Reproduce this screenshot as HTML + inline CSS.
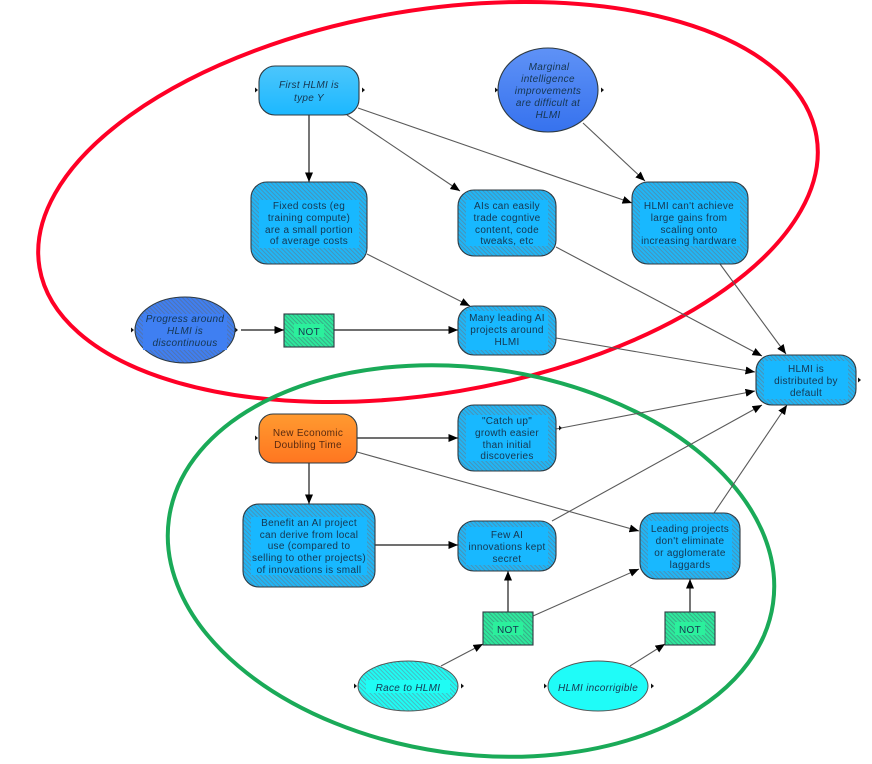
<!DOCTYPE html>
<html><head><meta charset="utf-8"><style>
html,body{margin:0;padding:0;background:#fff;width:872px;height:764px;overflow:hidden}
svg{display:block}
text{font-family:"Liberation Sans",sans-serif;font-size:10px;letter-spacing:.3px;text-anchor:middle;fill:#163650}
.i{font-style:italic}
.n{stroke:#2e3a42;stroke-width:1.1}
.l{stroke:#5a5a5a;stroke-width:1.1;fill:none;marker-end:url(#a)}
.k{stroke:#1a1a1a;stroke-width:1.2;fill:none;marker-end:url(#a)}
.b{fill:#18b8ff;stroke:none}
.g{fill:#2bf09c;stroke:none}
</style></head><body>
<svg width="872" height="764" viewBox="0 0 872 764" xmlns="http://www.w3.org/2000/svg">
<defs>
<marker id="a" markerUnits="userSpaceOnUse" markerWidth="11" markerHeight="9" refX="9.500" refY="4" orient="auto"><path d="M0,0L9.500,4L0,8z" fill="#000"/></marker>
<pattern id="hb" width="3" height="3" patternUnits="userSpaceOnUse" patternTransform="rotate(45)"><rect width="3" height="3" fill="#20b6f6"/><rect width="3" height=".9" fill="#4a8fb4"/></pattern>
<pattern id="hg" width="3" height="3" patternUnits="userSpaceOnUse" patternTransform="rotate(45)"><rect width="3" height="3" fill="#2ee89c"/><rect width="3" height=".9" fill="#38a884"/></pattern>
<pattern id="hd" width="3" height="3" patternUnits="userSpaceOnUse" patternTransform="rotate(45)"><rect width="3" height="3" fill="#3f7ff2"/><rect width="3" height=".9" fill="#5272ac"/></pattern>
<pattern id="hc" width="3" height="3" patternUnits="userSpaceOnUse" patternTransform="rotate(45)"><rect width="3" height="3" fill="#1ffcf4"/><rect width="3" height=".9" fill="#4ab4bc"/></pattern>
<linearGradient id="gb" x1="0" y1="0" x2="0" y2="1"><stop offset="0" stop-color="#4cc6fb"/><stop offset="1" stop-color="#1cb8ff"/></linearGradient>
<linearGradient id="gd" x1="0" y1="0" x2="0" y2="1"><stop offset="0" stop-color="#5f92f6"/><stop offset="1" stop-color="#3672ee"/></linearGradient>
<linearGradient id="go" x1="0" y1="0" x2="0" y2="1"><stop offset="0" stop-color="#ff9a30"/><stop offset="1" stop-color="#ff7620"/></linearGradient>
</defs>

<ellipse cx="428" cy="202" rx="394" ry="191.6" transform="rotate(-9.6 428 202)" fill="none" stroke="#ff0026" stroke-width="4"/>
<ellipse cx="471" cy="561" rx="305" ry="193" transform="rotate(8 471 561)" fill="none" stroke="#1aaa58" stroke-width="4"/>

<line class="k" x1="309" y1="115" x2="309" y2="182"/>
<line class="l" x1="347" y1="115" x2="460" y2="191"/>
<line class="l" x1="358" y1="108" x2="632" y2="203"/>
<line class="l" x1="583" y1="123" x2="645" y2="181"/>
<line class="l" x1="367" y1="254" x2="470" y2="306"/>
<line class="l" x1="556" y1="247" x2="762" y2="356"/>
<line class="l" x1="720" y1="264" x2="786" y2="354"/>
<line class="l" x1="556" y1="338" x2="755" y2="372"/>
<line class="l" x1="556" y1="429" x2="755" y2="391"/>
<line class="l" x1="552" y1="521" x2="762" y2="405"/>
<line class="l" x1="714" y1="513" x2="787" y2="405"/>
<line class="k" x1="241" y1="330" x2="284" y2="330"/>
<line class="k" x1="334" y1="330" x2="458" y2="330"/>
<line class="k" x1="357" y1="438" x2="458" y2="438"/>
<line class="l" x1="357" y1="452" x2="639" y2="531"/>
<line class="k" x1="309" y1="463" x2="309" y2="504"/>
<line class="k" x1="375" y1="545" x2="458" y2="545"/>
<line class="k" x1="508" y1="612" x2="508" y2="571"/>
<line class="l" x1="533" y1="616" x2="639" y2="569"/>
<line class="k" x1="690" y1="612" x2="690" y2="579"/>
<line class="l" x1="441" y1="666" x2="483" y2="644"/>
<line class="l" x1="630" y1="666" x2="665" y2="644"/>

<g fill="#111">
<path d="M255,87.500l3,2.500l-3,2.500z M362,87.500l3,2.500l-3,2.500z M495,87.500l3,2.500l-3,2.500z M601,87.500l3,2.500l-3,2.500z"/>
<path d="M131,327.500l3,2.500l-3,2.500z M235,327.500l3,2.500l-3,2.500z M858,377.500l3,2.500l-3,2.500z M255,435.500l3,2.500l-3,2.500z"/>
<path d="M354,683.500l3,2.500l-3,2.500z M461,683.500l3,2.500l-3,2.500z M544,683.500l3,2.500l-3,2.500z M651,683.500l3,2.500l-3,2.500z M559,425.500l3,2.500l-3,2.500z"/>
</g>

<rect class="n" x="259" y="66" width="100" height="49" rx="16" fill="url(#gb)"/>
<text class="i" x="309" y="88">First HLMI is</text><text class="i" x="309" y="101">type Y</text>

<ellipse class="n" cx="548" cy="90" rx="50" ry="42" fill="url(#gd)"/>
<text class="i" x="549" y="70">Marginal</text><text class="i" x="548" y="82">intelligence</text><text class="i" x="548" y="94">improvements</text><text class="i" x="548" y="106">are difficult at</text><text class="i" x="548" y="118">HLMI</text>

<rect class="n" x="251" y="182" width="116" height="82" rx="16" fill="url(#hb)"/>
<rect class="b" x="259" y="200" width="100" height="48"/>
<text x="309" y="209">Fixed costs (eg</text><text x="309" y="221">training compute)</text><text x="309" y="233">are a small portion</text><text x="309" y="244">of average costs</text>

<rect class="n" x="458" y="190" width="98" height="66" rx="16" fill="url(#hb)"/>
<rect class="b" x="466" y="200" width="82" height="46"/>
<text x="507" y="209">AIs can easily</text><text x="507" y="221">trade cogntive</text><text x="507" y="233">content, code</text><text x="507" y="244">tweaks, etc</text>

<rect class="n" x="632" y="182" width="116" height="82" rx="16" fill="url(#hb)"/>
<rect class="b" x="640" y="200" width="100" height="46"/>
<text x="689" y="209">HLMI can't achieve</text><text x="689" y="221">large gains from</text><text x="689" y="233">scaling onto</text><text x="689" y="244">increasing hardware</text>

<ellipse class="n" cx="185" cy="330" rx="50" ry="33" fill="url(#hd)"/>
<rect x="143" y="314" width="84" height="36" fill="#3f7ff2"/>
<text class="i" x="185" y="322">Progress around</text><text class="i" x="185" y="334">HLMI is</text><text class="i" x="185" y="346">discontinuous</text>

<rect class="n" x="284" y="314" width="50" height="33" fill="url(#hg)"/>
<rect class="g" x="294" y="324" width="30" height="13"/>
<text x="309" y="335">NOT</text>

<rect class="n" x="458" y="306" width="98" height="49" rx="16" fill="url(#hb)"/>
<rect class="b" x="466" y="311" width="82" height="39"/>
<text x="507" y="321">Many leading AI</text><text x="507" y="333">projects around</text><text x="507" y="345">HLMI</text>

<rect class="n" x="756" y="355" width="100" height="50" rx="16" fill="url(#hb)"/>
<rect class="b" x="764" y="361" width="84" height="38"/>
<text x="806" y="372">HLMI is</text><text x="806" y="384">distributed by</text><text x="806" y="396">default</text>

<rect class="n" x="259" y="414" width="98" height="49" rx="14" fill="url(#go)"/>
<text x="308" y="436" style="fill:#5a2a10">New Economic</text><text x="308" y="448" style="fill:#5a2a10">Doubling Time</text>

<rect class="n" x="458" y="405" width="98" height="66" rx="16" fill="url(#hb)"/>
<rect class="b" x="466" y="415" width="82" height="46"/>
<text x="507" y="424">"Catch up"</text><text x="507" y="436">growth easier</text><text x="507" y="448">than initial</text><text x="507" y="459">discoveries</text>

<rect class="n" x="243" y="504" width="132" height="83" rx="16" fill="url(#hb)"/>
<rect class="b" x="251" y="517" width="116" height="58"/>
<text x="309" y="526">Benefit an AI project</text><text x="309" y="538">can derive from local</text><text x="309" y="549">use (compared to</text><text x="309" y="561">selling to other projects)</text><text x="309" y="573">of innovations is small</text>

<rect class="n" x="458" y="521" width="98" height="50" rx="16" fill="url(#hb)"/>
<rect class="b" x="466" y="527" width="82" height="38"/>
<text x="507" y="538">Few AI</text><text x="507" y="550">innovations kept</text><text x="507" y="562">secret</text>

<rect class="n" x="640" y="513" width="100" height="66" rx="16" fill="url(#hb)"/>
<rect class="b" x="648" y="521" width="84" height="50"/>
<text x="690" y="532">Leading projects</text><text x="690" y="544">don't eliminate</text><text x="690" y="556">or agglomerate</text><text x="690" y="568">laggards</text>

<rect class="n" x="483" y="612" width="50" height="33" fill="url(#hg)"/>
<rect class="g" x="493" y="622" width="30" height="13"/>
<text x="508" y="633">NOT</text>

<rect class="n" x="665" y="612" width="50" height="33" fill="url(#hg)"/>
<rect class="g" x="675" y="622" width="30" height="13"/>
<text x="690" y="633">NOT</text>

<ellipse cx="408" cy="686" rx="50" ry="25" fill="url(#hc)" stroke="#555" stroke-width="1"/>
<rect x="366" y="680" width="84" height="13" fill="#1ffcf4"/>
<text class="i" x="408" y="691">Race to HLMI</text>

<ellipse cx="598" cy="686" rx="50" ry="25" fill="#1ffcf8" stroke="#555" stroke-width="1"/>
<text class="i" x="598" y="691">HLMI incorrigible</text>
</svg>
</body></html>
